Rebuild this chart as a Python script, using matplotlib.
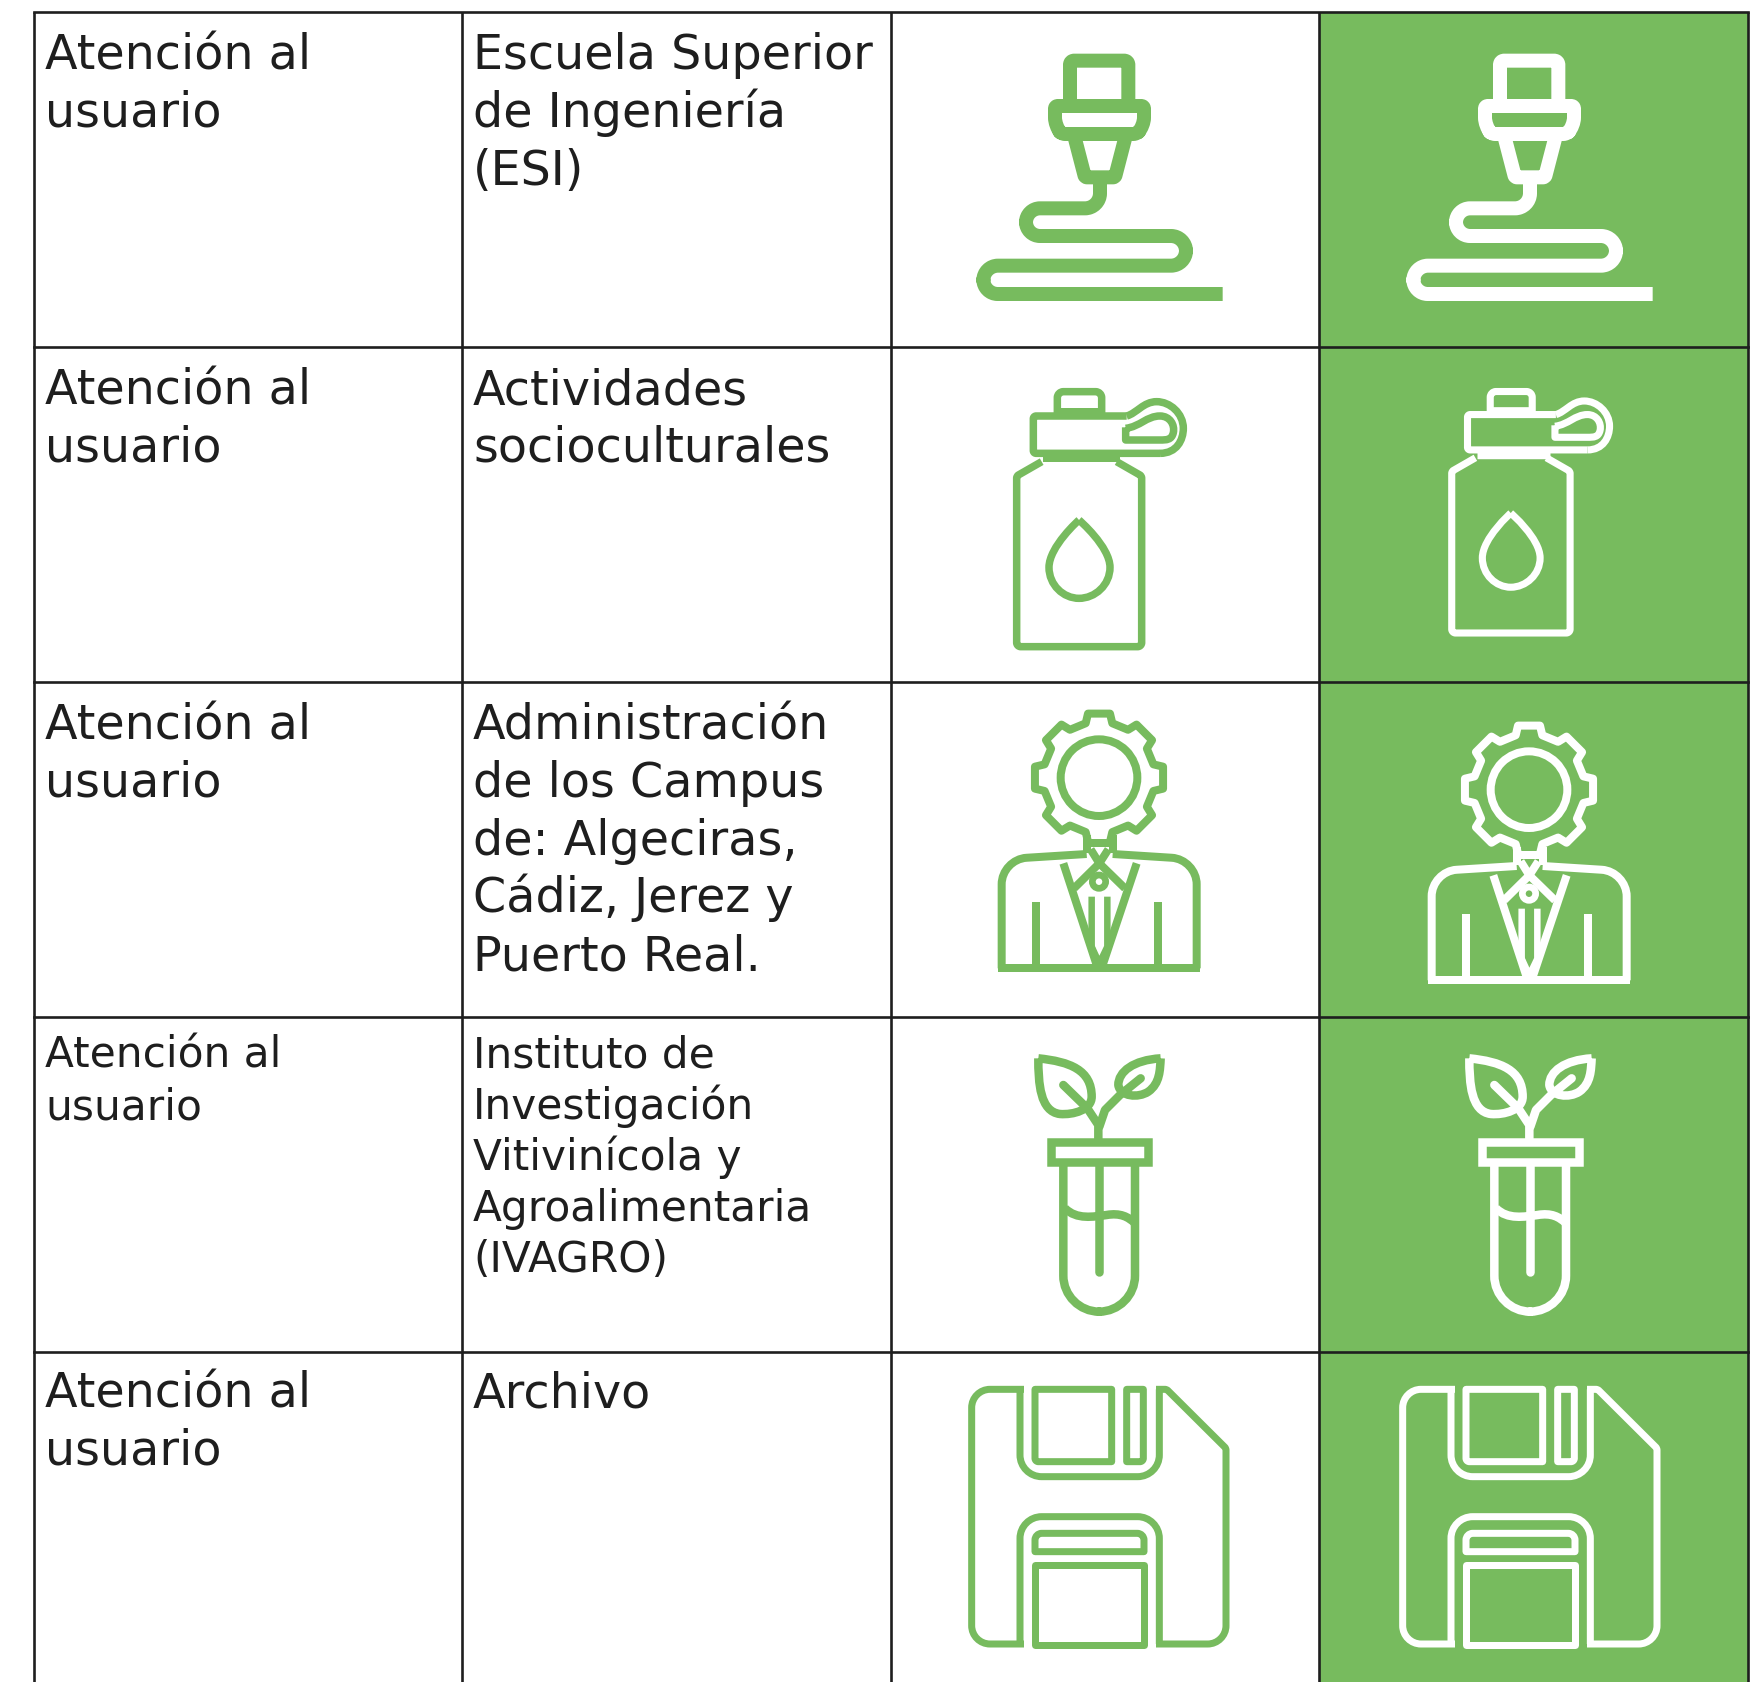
import matplotlib
matplotlib.use("Agg")
import matplotlib.pyplot as plt
import numpy as np
from matplotlib.path import Path
from matplotlib.patches import PathPatch, Rectangle, Circle

col_a = ["Atención al\nusuario"] * 5
col_b = [
    "Escuela Superior\nde Ingeniería\n(ESI)",
    "Actividades\nsocioculturales",
    "Administración\nde los Campus\nde: Algeciras,\nCádiz, Jerez y\nPuerto Real.",
    "Instituto de\nInvestigación\nVitivinícola y\nAgroalimentaria\n(IVAGRO)",
    "Archivo",
]
col_x = [34, 462.5, 891, 1319.5, 1748]
row_y = [11.5, 347, 682, 1017.3, 1352.3]
first_baseline = [69, 404, 739, 1068, 1407]
line_gap = [57.8, 57.8, 57.8, 51, 57.5]
font_pt = [34.3, 34.3, 34.3, 30.4, 34.3]

GREEN = "#77BB5E"
INK = "#1E1E1E"

plt.rcParams["font.family"] = ["DejaVu Sans"]

fig = plt.figure(figsize=(17.58, 16.82), dpi=100)
ax = fig.add_axes([0, 0, 1, 1])
ax.set_xlim(0, 1758)
ax.set_ylim(1682, 0)
ax.axis("off")


def stroke(pts, ox, oy, s, color, w, closed=False, cap="butt", join="round"):
    # pts are (x, y) or (x, y, r) in zoom coords, r rounds the corner
    pts = [p if len(p) == 3 else (p[0], p[1], 0) for p in pts]
    verts, codes = [], []
    n = len(pts)
    for i, (x, y, r) in enumerate(pts):
        p = np.array([x, y], float)
        if r and (closed or 0 < i < n - 1):
            a = np.array(pts[i - 1][:2], float)
            b = np.array(pts[(i + 1) % n][:2], float)
            d1 = (a - p) / np.linalg.norm(a - p)
            d2 = (b - p) / np.linalg.norm(b - p)
            p1, p2 = p + d1 * r, p + d2 * r
            verts.append(p1)
            codes.append(Path.LINETO if verts[:-1] else Path.MOVETO)
            verts += [p + d1 * r * 0.45, p + d2 * r * 0.45, p2]
            codes += [Path.CURVE4] * 3
        else:
            verts.append(p)
            codes.append(Path.LINETO if verts[:-1] else Path.MOVETO)
    if closed:
        verts.append(verts[0])
        codes.append(Path.CLOSEPOLY)
    verts = np.array(verts) * s / 3 + [ox, oy]
    ax.add_patch(PathPatch(Path(verts, codes), fill=False, ec=color, lw=w * 0.72,
                           capstyle=cap, joinstyle=join))


def curve(segs, ox, oy, s, color, w):
    # first point then groups of 3 bezier points
    verts = np.array(segs, float) * s / 3 + [ox, oy]
    codes = [Path.MOVETO] + [Path.CURVE4] * (len(segs) - 1)
    ax.add_patch(PathPatch(Path(verts, codes), fill=False, ec=color, lw=w * 0.72,
                           capstyle="butt", joinstyle="round"))


def printer(ox, oy, s, c):
    w = 14 * s
    stroke([(390, 255), (390, 122, 12), (565, 122, 12), (565, 255)], ox, oy, s, c, w)
    stroke([(345, 258, 8), (612, 258, 8), (612, 318, 25), (590, 342, 10),
            (365, 342, 10), (345, 318, 25)], ox, oy, s, c, w, closed=True)
    stroke([(402, 345), (435, 472, 6), (525, 472, 6), (558, 345)], ox, oy, s, c, w)
    stroke([(480, 470), (480, 565, 45), (258, 565, 42), (258, 648, 42), (738, 648, 45),
            (738, 737, 45), (130, 737, 44), (130, 822, 43), (848, 822)], ox, oy, s, c, w)


def bottle(ox, oy, s, c):
    w = 7.5 * s
    stroke([(232, 130), (232, 65, 18), (365, 65, 18), (365, 130)], ox, oy, s, c, w)
    stroke([(225, 122), (372, 122)], ox, oy, s, c, 6 * s)
    stroke([(440, 138), (160, 138, 8), (160, 250, 8), (540, 250)], ox, oy, s, c, w)
    curve([(540, 250), (590, 250), (610, 210), (610, 175), (610, 130), (570, 95), (530, 95),
           (490, 95), (470, 130), (440, 138)], ox, oy, s, c, w)
    curve([(437, 175), (480, 170), (500, 138), (540, 138), (570, 138), (585, 165), (580, 188),
           (575, 210), (560, 210), (540, 210), (500, 210), (470, 210), (437, 210),
           (437, 200), (437, 185), (437, 172)], ox, oy, s, c, w)
    stroke([(190, 262), (420, 262)], ox, oy, s, c, 10 * s)
    stroke([(185, 275), (110, 318, 6), (110, 830, 12), (485, 830, 12), (485, 318, 6),
            (410, 275)], ox, oy, s, c, w)
    curve([(297, 450), (297, 450), (207, 530), (207, 592), (207, 645), (250, 685), (297, 685),
           (345, 685), (390, 645), (390, 592), (390, 530), (297, 450), (297, 450)], ox, oy, s, c, w)


def person(ox, oy, s, c):
    w = 8 * s
    cx, cy = 357, 233
    ax.add_patch(Circle((ox + cx * s / 3, oy + cy * s / 3), 115 * s / 3, fill=False, ec=c, lw=w * 0.72))
    # gear outline, 8 teeth, open at the bottom
    gear = []
    for k in range(8):
        t = np.pi / 4 * k - np.pi / 2
        for dt, r in [(-0.24, 168), (-0.17, 195), (0.17, 195), (0.24, 168)]:
            gear.append((cx + r * np.cos(t + dt), cy + r * np.sin(t + dt)))
    gear_bottom = int(len(gear) * 0.5)
    gear = gear[gear_bottom + 2:] + gear[:gear_bottom + 2]
    stroke(gear, ox, oy, s, c, w)
    stroke([(320, 405), (320, 460)], ox, oy, s, c, w)
    stroke([(398, 405), (398, 460)], ox, oy, s, c, w)
    stroke([(320, 430), (398, 430)], ox, oy, s, c, w)
    stroke([(332, 448), (358, 490), (385, 448)], ox, oy, s, c, w)
    stroke([(65, 805), (65, 478, 75), (320, 462)], ox, oy, s, c, w)
    stroke([(650, 805), (650, 478, 75), (398, 462)], ox, oy, s, c, w)
    stroke([(55, 805), (660, 805)], ox, oy, s, c, w)
    stroke([(250, 490), (350, 795)], ox, oy, s, c, w)
    stroke([(470, 490), (368, 795)], ox, oy, s, c, w)
    stroke([(282, 565), (358, 490), (435, 565)], ox, oy, s, c, w)
    ax.add_patch(Circle((ox + 357 * s / 3, oy + 545 * s / 3), 20 * s / 3, fill=False, ec=c, lw=w * 0.6))
    stroke([(335, 590), (335, 740), (358, 790), (382, 740), (382, 590)], ox, oy, s, c, 6.5 * s)
    stroke([(168, 605), (168, 805)], ox, oy, s, c, w)
    stroke([(535, 605), (535, 805)], ox, oy, s, c, w)


def plant(ox, oy, s, c):
    w = 8.5 * s
    stroke([(122, 305), (415, 305), (415, 365), (122, 365)], ox, oy, s, c, w, closed=True, join="miter")
    stroke([(160, 370), (160, 815, 108), (375, 815, 108), (375, 370)], ox, oy, s, c, w)
    stroke([(267, 370), (267, 695)], ox, oy, s, c, w, cap="round")
    curve([(165, 505), (200, 540), (250, 530), (290, 525), (330, 518), (355, 530), (375, 550)], ox, oy, s, c, w)
    curve([(85, 55), (180, 65), (245, 90), (245, 170), (245, 210), (190, 225), (150, 222),
           (90, 215), (85, 130), (85, 55)], ox, oy, s, c, w)
    curve([(452, 55), (370, 60), (325, 95), (325, 135), (330, 170), (385, 175), (415, 155),
           (450, 130), (450, 90), (452, 55)], ox, oy, s, c, w)
    stroke([(160, 135), (232, 205), (265, 255), (265, 300)], ox, oy, s, c, w, cap="round")
    stroke([(392, 115), (330, 165), (285, 210), (268, 260)], ox, oy, s, c, w, cap="round")


def floppy(ox, oy, s, c):
    w = 7 * s
    stroke([(222, 58), (65, 58, 55), (65, 822, 55), (222, 822)], ox, oy, s, c, w)
    stroke([(618, 58), (650, 58, 5), (828, 235, 5), (828, 822, 55), (618, 822)], ox, oy, s, c, w)
    stroke([(210, 58), (210, 320, 65), (628, 320, 65), (628, 58)], ox, oy, s, c, w)
    stroke([(210, 822), (210, 440, 65), (628, 440, 65), (628, 822)], ox, oy, s, c, w)
    stroke([(255, 58), (255, 275, 10), (485, 275), (485, 58)], ox, oy, s, c, w, closed=True)
    stroke([(530, 58), (530, 275), (580, 275, 10), (580, 58)], ox, oy, s, c, w, closed=True)
    stroke([(255, 545), (255, 490, 20), (582, 490, 20), (582, 545)], ox, oy, s, c, w, closed=True)
    stroke([(255, 585), (582, 585), (582, 825), (255, 825)], ox, oy, s, c, w, closed=True)


ax.add_patch(Rectangle((col_x[3], row_y[0]), col_x[4] - col_x[3], 1682 - row_y[0], fc=GREEN, ec="none"))

for x in col_x:
    ax.plot([x, x], [row_y[0], 1682], color=INK, lw=1.9, solid_capstyle="butt")
for y in row_y:
    ax.plot([col_x[0], col_x[4]], [y, y], color=INK, lw=1.9, solid_capstyle="projecting")

for i in range(5):
    for cell, x in ((col_a[i], 45), (col_b[i], 473)):
        for k, line in enumerate(cell.split("\n")):
            ax.text(x, first_baseline[i] + k * line_gap[i], line, fontsize=font_pt[i], color=INK,
                    va="baseline", ha="left")

printer(940, 20, 1, GREEN)
printer(1370, 20, 1, "white")
bottle(980, 370, 1, GREEN)
bottle(1417, 371, 0.947, "white")
person(980, 700, 1, GREEN)
person(1410, 712, 1, "white")
plant(1010, 1040, 1, GREEN)
plant(1441, 1040, 1, "white")
floppy(950, 1370, 1, GREEN)
floppy(1381, 1370, 1, "white")

fig.savefig("out.png", dpi=100, facecolor="white")
